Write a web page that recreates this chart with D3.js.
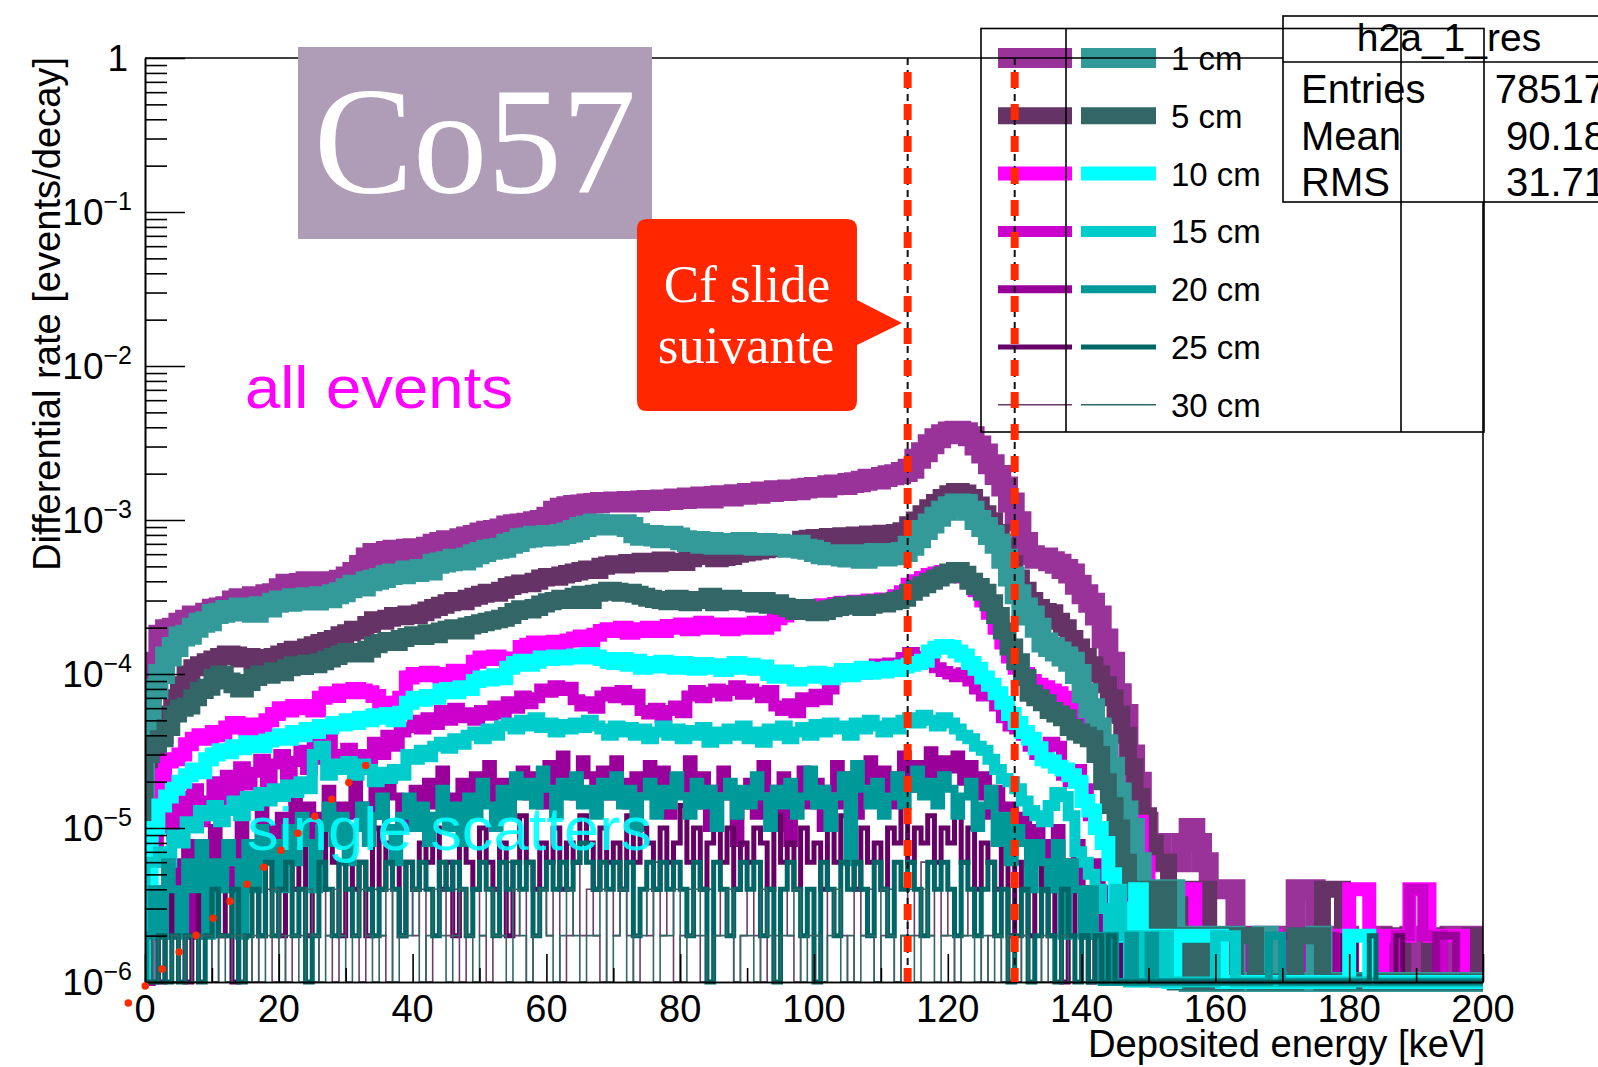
<!DOCTYPE html>
<html>
<head>
<meta charset="utf-8">
<script src="https://cdn.jsdelivr.net/npm/d3@7"></script>
<style>
  body { margin: 0; background: #fff; }
  svg { display: block; }
  text { font-family: "Liberation Sans", Arial, Helvetica, sans-serif; }
  .serif { font-family: "Liberation Serif", "Times New Roman", serif; }
</style>
</head>
<body>
<svg id="chart" width="1598" height="1067"></svg>
<script>
// ---- Binning and axis definitions ----
const binWidth = 1;            // keV per bin
const nBins = 200;             // 0 .. 200 keV
const rateUnit = 1e-6;         // histogram contents below are in units of 1e-6 events/decay
const yMin = 1e-6, yMax = 1;
const energyTicks = [0, 20, 40, 60, 80, 100, 120, 140, 160, 180, 200];
const energyMinorTicks = [10, 30, 50, 70, 90, 110, 130, 150, 170, 190];
const rateDecades = [1e-6, 1e-5, 1e-4, 1e-3, 1e-2, 1e-1, 1];
const selectionCuts = [114, 130]; // keV, dashed window

// ---- Legend / series styling ----
const distances = ["1 cm", "5 cm", "10 cm", "15 cm", "20 cm", "25 cm", "30 cm"];
const allColors = ["#993399", "#663366", "#ff00ff", "#cc00cc", "#990099", "#660066", "#6b3d6b"];
const singleColors = ["#339999", "#336666", "#00ffff", "#00cccc", "#009999", "#006666", "#336666"];
const lineWidths = [20, 17, 14, 11, 8, 5, 1.6];

// ---- All events, per source distance (1e-6 events/decay per keV bin) ----
const allEvents1cm = [
  40,120,180,195,200,215,225,240,235,250,
  265,270,275,300,310,305,320,315,330,335,
  360,385,375,390,400,385,395,400,390,410,
  430,460,510,570,610,600,630,640,620,650,
  655,640,670,700,720,740,730,760,780,800,
  830,850,860,880,920,940,950,960,980,1000,
  1050,1150,1200,1230,1250,1260,1280,1290,1310,1300,
  1320,1310,1330,1300,1340,1350,1330,1360,1350,1380,
  1370,1400,1390,1420,1380,1430,1450,1420,1470,1460,
  1500,1480,1530,1520,1560,1540,1580,1560,1600,1620,
  1640,1620,1680,1700,1690,1740,1760,1800,1850,1830,
  1900,1950,1980,2050,2150,2500,2750,3100,3400,3600,
  3750,3800,3720,3500,3050,2700,2300,1960,1650,1300,
  980,720,590,560,570,540,520,480,450,380,
  330,290,240,170,120,75,55,30,20,11,
  8,8,6,6,6,8,10,8,6,4,
  4,4,4,0,0,2,0,0,2,0,
  0,2,4,4,4,2,0,0,0,2,
  0,0,0,0,2,0,0,0,0,2,
  0,0,0,0,0,2,0,0,2,0
];
const allEvents5cm = [
  20,30,40,55,70,85,100,110,115,120,
  125,130,135,133,125,130,120,128,122,130,
  135,140,145,140,150,155,160,165,170,180,
  185,195,190,210,225,220,230,240,235,245,
  240,250,260,270,280,290,300,295,310,320,
  330,340,335,350,370,380,390,385,400,420,
  430,425,440,450,460,470,480,470,500,510,
  520,510,530,520,540,530,520,550,530,540,
  530,560,590,600,580,560,570,580,600,610,
  620,630,640,650,660,670,690,700,750,760,
  770,760,780,770,790,760,800,780,810,790,
  820,800,830,850,930,1000,1100,1200,1300,1400,
  1480,1530,1500,1400,1250,1100,990,830,680,520,
  420,350,300,270,255,250,220,200,170,150,
  130,115,100,85,70,55,40,25,16,12,
  8,6,6,4,4,2,2,4,4,2,
  0,2,0,2,0,0,2,0,0,0,
  0,0,0,0,0,0,4,4,4,0,
  0,0,0,0,0,0,2,2,0,0,
  0,0,2,0,0,0,0,0,2,2
];
const allEvents10cm = [
  8,15,22,27,28,30,35,38,40,38,
  42,40,45,48,46,44,47,45,50,55,
  60,58,62,60,62,58,70,75,72,78,
  76,80,78,76,72,65,62,64,70,95,
  100,98,102,100,96,100,105,98,104,120,
  128,125,130,126,118,122,150,155,160,150,
  158,162,155,165,170,175,165,180,190,195,
  190,200,185,195,190,200,195,190,205,200,
  210,195,205,215,200,210,205,195,210,200,
  205,215,200,210,230,240,250,255,260,270,
  275,280,270,285,290,280,295,290,300,290,
  305,300,320,340,380,400,420,440,450,460,
  465,450,430,400,350,300,250,200,160,130,
  110,100,90,85,82,78,75,70,62,55,
  45,38,30,22,16,12,10,11,11,6,
  4,2,2,4,4,4,4,2,0,0,
  2,0,0,0,2,2,2,0,2,0,
  0,0,0,0,0,0,0,0,2,2,
  4,4,4,2,0,2,2,2,2,4,
  4,4,2,2,2,2,2,0,0,0
];
const allEvents15cm = [
  2,6,10,14,9,16,12,18,11,15,
  20,14,22,17,25,19,23,28,20,26,
  30,22,27,32,24,35,28,38,30,27,
  33,25,30,28,36,30,40,34,42,45,
  50,44,52,47,58,50,60,52,56,50,
  58,54,62,55,66,60,72,64,70,80,
  76,84,78,82,68,62,66,60,72,76,
  70,78,68,74,58,55,60,52,58,62,
  56,72,78,70,76,80,72,78,84,74,
  80,76,70,78,62,58,64,56,70,66,
  74,68,80,96,104,98,108,100,112,116,
  108,118,112,128,138,130,124,118,110,104,
  100,96,102,90,80,72,76,62,52,46,
  44,40,34,30,32,36,34,22,20,24,
  18,12,10,8,6,4,4,2,2,4,
  2,0,0,0,0,0,0,0,0,0,
  0,0,0,0,0,2,2,0,0,0,
  0,0,0,0,2,0,0,0,0,0,
  0,0,0,0,0,0,0,2,2,4,
  4,2,2,2,0,0,0,0,0,0
];
const allEvents20cm = [
  0,2,4,2,6,4,8,2,6,4,
  10,6,8,4,12,8,6,14,10,8,
  12,6,16,10,14,8,12,18,10,14,
  12,20,14,10,18,12,22,16,10,14,
  18,12,20,14,24,16,12,20,14,22,
  16,26,14,20,12,18,24,16,22,14,
  26,18,30,20,16,28,22,18,24,16,
  28,20,14,22,18,26,16,24,12,20,
  18,28,14,22,10,18,24,16,8,14,
  20,12,26,18,10,22,8,16,24,14,
  20,10,18,26,14,22,12,20,28,16,
  24,14,22,30,18,26,20,32,22,28,
  24,30,20,26,16,22,12,18,10,14,
  8,12,6,10,8,4,10,6,4,8,
  4,2,6,2,4,0,2,0,2,0,
  0,0,0,0,0,0,0,0,0,0,
  0,0,0,0,0,0,0,0,2,0,
  2,2,0,0,0,2,2,2,0,0,
  0,0,0,0,0,0,0,0,0,0,
  0,0,0,2,2,2,0,0,0,0
];
const allEvents25cm = [
  0,2,0,2,4,2,0,2,4,2,
  6,2,4,0,2,6,4,2,8,4,
  2,6,4,8,2,6,4,10,6,2,
  8,4,6,2,10,4,8,6,2,6,
  4,8,6,10,4,6,2,8,6,4,
  10,6,4,8,2,6,12,6,4,8,
  6,10,4,8,6,12,8,4,10,6,
  8,4,12,6,10,8,4,10,6,8,
  14,6,10,4,8,12,6,10,4,8,
  6,10,8,4,12,6,8,4,10,6,
  8,4,10,6,12,8,4,10,6,8,
  4,10,8,14,6,10,8,12,6,10,
  8,12,6,10,4,8,6,4,8,2,
  6,4,2,6,4,2,4,0,2,4,
  2,0,2,0,0,2,0,0,0,0,
  0,0,0,0,0,0,0,0,0,0,
  0,0,0,0,0,0,0,0,0,0,
  0,0,0,0,0,0,0,0,0,2,
  2,0,0,0,0,0,0,2,0,0
];
const allEvents30cm = [
  0,0,2,0,0,2,0,2,0,2,
  0,2,2,0,4,2,0,2,4,0,
  2,0,4,2,2,0,4,2,0,2,
  4,2,0,2,4,2,0,4,2,6,
  2,4,0,2,4,2,4,0,2,4,
  2,0,4,2,6,2,4,0,2,4,
  2,4,0,2,6,2,4,2,0,4,
  2,4,2,0,4,2,6,2,4,0,
  2,4,2,0,4,2,4,2,0,2,
  4,2,0,4,2,4,2,0,2,4,
  2,0,4,2,2,0,4,2,4,0,
  2,4,0,2,4,2,6,2,4,2,
  4,0,2,4,2,0,2,4,0,2,
  0,2,0,2,0,0,2,0,0,2
];

// ---- Single scatters, per source distance ----
const singles1cm = [
  50,80,100,130,150,175,180,200,215,220,
  245,250,260,255,270,265,250,275,270,290,
  300,295,310,300,315,300,320,310,330,340,
  360,380,370,400,410,420,440,450,445,470,
  460,480,470,520,530,540,560,545,570,600,
  620,640,650,660,700,720,760,770,790,780,
  800,790,810,830,860,900,920,950,940,930,
  920,940,900,820,790,800,780,760,790,770,
  740,720,730,700,720,690,710,700,690,720,
  700,680,710,690,700,680,660,690,650,640,
  620,600,590,600,580,570,600,560,590,610,
  580,600,590,620,680,760,860,950,1050,1150,
  1230,1280,1270,1150,1000,900,800,700,560,430,
  330,270,240,200,160,150,140,130,120,100,
  75,60,45,35,25,17,13,10,6,4,
  4,4,4,4,2,2,0,2,0,2,
  2,0,2,0,0,0,0,2,0,0,
  0,0,0,0,0,2,0,0,0,0
];
const singles5cm = [
  30,35,38,45,55,60,62,70,78,82,
  95,100,90,85,80,88,95,100,98,105,
  102,110,115,112,118,115,120,125,130,135,
  140,138,135,145,155,160,165,160,170,175,
  180,175,185,180,190,195,200,190,205,210,
  215,220,225,230,240,255,265,260,270,285,
  295,300,310,300,320,330,300,335,340,350,
  345,335,340,330,320,310,305,300,295,310,
  300,290,305,300,320,290,300,310,295,300,
  290,285,300,280,290,275,265,255,270,260,
  250,255,265,270,280,275,285,270,280,290,
  285,295,300,310,340,360,380,400,420,440,
  460,470,445,400,370,340,290,240,190,150,
  120,95,75,70,65,58,55,52,45,42,
  40,38,30,20,14,10,6,4,4,4,
  2,2,4,2,0,2,0,0,2,0,
  2,2,0,2,2,2,0,0,0,0,
  0,0,2,2,2,2,0,0,0,0
];
const singles10cm = [
  3,10,14,16,18,20,22,24,23,28,
  30,32,31,34,33,36,35,34,37,38,
  40,38,42,40,44,42,46,45,48,47,
  50,48,52,50,54,52,55,50,56,65,
  70,68,72,70,78,80,76,82,80,90,
  95,92,98,94,110,118,122,115,120,128,
  125,130,126,128,132,128,135,130,125,120,
  118,125,115,122,110,118,112,120,115,110,
  118,112,108,116,110,114,106,112,118,110,
  115,108,112,100,96,104,98,92,100,96,
  102,98,94,100,106,98,104,110,102,108,
  104,110,106,112,115,118,122,140,148,152,
  150,140,132,118,108,95,85,75,65,55,
  48,42,38,33,28,27,25,24,22,20,
  15,13,10,8,5,3,2,2,4,2,
  2,2,2,0,2,2,2,2,2,2,
  2,0,0,0,0,0,0,0,0,0,
  0,0,0,0,0,0,0,0,0,0,
  2,2,2,0,0,0,0,0,0,0
];
const singles15cm = [
  6,6,7,6,9,8,11,10,13,12,
  14,11,13,15,12,16,14,17,15,18,
  16,19,17,20,18,30,34,22,26,24,
  27,22,26,24,20,23,21,24,22,30,
  28,32,29,34,36,33,38,35,40,42,
  38,44,40,46,48,44,50,46,52,45,
  48,42,47,44,48,45,50,46,44,40,
  46,42,45,40,44,38,42,46,40,44,
  38,43,40,45,36,42,38,44,40,46,
  38,42,36,44,40,46,38,42,45,40,
  47,42,48,44,46,40,48,44,50,46,
  42,48,44,50,52,48,54,50,46,52,
  48,44,40,38,34,32,28,24,21,20,
  18,15,13,12,11,14,17,16,12,7,
  6,5,4,3,2,4,2,0,2,0,
  2,0,2,0,0,0,0,0,0,0,
  2,2,2,0,0,0,0,0,0,0
];
const singles20cm = [
  2,4,2,6,4,2,6,4,8,2,
  6,4,8,6,2,8,4,10,6,8,
  4,10,6,12,8,4,10,14,8,12,
  6,10,14,8,12,16,10,6,12,16,
  10,14,8,12,18,10,14,8,16,12,
  20,14,10,18,12,22,16,20,14,24,
  18,12,20,16,22,14,18,12,20,16,
  22,14,18,10,16,20,12,18,14,22,
  16,12,20,14,18,10,16,20,12,18,
  14,22,16,10,18,14,20,12,16,24,
  14,18,10,16,22,6,26,18,14,20,
  12,16,22,14,18,24,16,20,14,22,
  18,12,16,20,10,14,18,8,12,6,
  10,8,4,8,6,4,8,2,6,4,
  2,4,2,0,2,0,0,2,0,0,
  2,0,0,0,0,0,0,0,0,0,
  0,0,0,0,0,0,0,0,2,2
];
const singles25cm = [
  0,0,2,0,2,0,2,2,0,2,
  4,2,2,4,0,2,4,2,6,2,
  4,6,2,4,0,2,6,4,2,6,
  4,2,6,4,2,4,6,4,2,6,
  4,6,4,2,6,4,6,4,2,4,
  6,4,2,6,4,6,4,6,2,4,
  6,4,6,4,6,8,6,4,6,4,
  6,4,6,2,4,6,4,6,4,6,
  4,2,6,4,0,6,4,2,4,6,
  4,6,2,4,0,4,6,4,2,4,
  0,6,4,2,6,4,6,4,2,6,
  4,2,6,4,6,4,2,6,4,6,
  4,2,6,4,2,4,6,2,4,0,
  2,4,0,2,4,2,0,4,2,0,
  2,0,2,0,2,0,0,0,0,0,
  0,0,0,0,0,0,0,0,0,0,
  0,0,0,0,0,0,0,0,0,0,
  0,0,0,0,0,0,0,0,0,0,
  0,0,0,2,0,0,0,0,0,0
];
const singles30cm = [
  0,2,0,0,2,0,2,0,2,2,
  0,2,0,2,2,0,2,0,2,4,
  0,2,2,0,4,2,0,2,4,2,
  0,2,4,2,0,2,4,0,2,2,
  4,0,2,4,2,0,2,4,2,0,
  2,4,2,2,0,4,2,0,2,4,
  2,0,2,4,2,0,2,2,4,0,
  2,4,0,2,2,4,0,2,2,4,
  0,2,4,2,0,2,2,4,0,2,
  2,0,4,2,0,2,2,4,0,2,
  2,0,2,4,0,2,0,2,2,0,
  4,2,0,2,2,0,4,2,0,2,
  2,0,2,2,0,2,0,2,0,2,
  0,2,0,0,2,0,0,2,0,0
];

// Dotted guide drawn across the low-energy region: [keV, events/decay]
const guideStart = [-2.5, 7.3e-7];
const guideEnd = [33, 2.55e-5];

const allSeries = [allEvents1cm, allEvents5cm, allEvents10cm, allEvents15cm, allEvents20cm, allEvents25cm, allEvents30cm];
const singleSeries = [singles1cm, singles5cm, singles10cm, singles15cm, singles20cm, singles25cm, singles30cm];

// ---- Scales ----
const svg = d3.select("#chart");
const x = d3.scaleLinear().domain([0, nBins * binWidth]).range([145, 1483]);
const y = d3.scaleLog().domain([yMin, yMax]).range([982, 58]);

// Step outline of a histogram, starting and ending on the lower axis limit.
// Empty bins sit on the lower limit, as on a log axis.
function stepPoints(counts) {
  const pts = [[0, yMin]];
  for (let i = 0; i < nBins; i++) {
    const c = i < counts.length ? counts[i] : 0;
    const r = Math.max(c * rateUnit, yMin);
    pts.push([i * binWidth, r], [(i + 1) * binWidth, r]);
  }
  pts.push([nBins * binWidth, yMin]);
  return pts;
}
const stepLine = d3.line().x(d => x(d[0])).y(d => y(d[1]));

svg.append("clipPath").attr("id", "plotClip")
  .append("rect").attr("x", 145).attr("y", 40).attr("width", 1338).attr("height", 955);

const histLayer = svg.append("g").attr("clip-path", "url(#plotClip)");
const drawOrder = [
  ...allSeries.map((s, i) => ({ counts: s, color: allColors[i], width: lineWidths[i] })),
  ...singleSeries.map((s, i) => ({ counts: s, color: singleColors[i], width: lineWidths[i] }))
];
histLayer.selectAll("path.hist").data(drawOrder).join("path")
  .attr("class", "hist")
  .attr("d", d => stepLine(stepPoints(d.counts)))
  .attr("fill", "none")
  .attr("stroke", d => d.color)
  .attr("stroke-width", d => d.width)
  .attr("stroke-linejoin", "miter")
  .attr("stroke-linecap", "butt");

// ---- In-plot labels ----
svg.append("text").attr("x", 245).attr("y", 408)
  .attr("font-size", 60).attr("fill", "#ff00ff")
  .attr("textLength", 268).attr("lengthAdjust", "spacingAndGlyphs")
  .text("all events");
svg.append("text").attr("x", 247).attr("y", 850)
  .attr("font-size", 62).attr("fill", "#00ffff").attr("fill-opacity", 0.9)
  .attr("textLength", 405).attr("lengthAdjust", "spacingAndGlyphs")
  .text("single scatters");

// ---- Legend entries ----
const legend = svg.append("g");
const rowY = i => 58 + i * 57.8;
distances.forEach((label, i) => {
  const yy = rowY(i);
  legend.append("line").attr("x1", 998).attr("x2", 1072).attr("y1", yy).attr("y2", yy)
    .attr("stroke", allColors[i]).attr("stroke-width", lineWidths[i]);
  legend.append("line").attr("x1", 1081).attr("x2", 1156).attr("y1", yy).attr("y2", yy)
    .attr("stroke", singleColors[i]).attr("stroke-width", lineWidths[i]);
  legend.append("text").attr("x", 1171).attr("y", yy + 12)
    .attr("font-size", 33).attr("fill", "#000").text(label);
});

// ---- Axes ----
const yMajorAxis = d3.axisLeft(y).tickValues(rateDecades).tickSizeInner(-40).tickSizeOuter(0).tickFormat("");
const yMinorTicks = y.ticks().filter(v => !rateDecades.some(d => Math.abs(d - v) / d < 1e-9));
const yMinorAxis = d3.axisLeft(y).tickValues(yMinorTicks).tickSizeInner(-22).tickSizeOuter(0).tickFormat("");
const xMajorAxis = d3.axisBottom(x).tickValues(energyTicks).tickSizeInner(-28).tickSizeOuter(0).tickFormat("");
const xMinorAxis = d3.axisBottom(x).tickValues(energyMinorTicks).tickSizeInner(-14).tickSizeOuter(0).tickFormat("");

function styleAxis(g) {
  g.selectAll("path, line").attr("stroke", "#000").attr("stroke-width", 1.6);
}
svg.append("g").attr("transform", "translate(145,0)").call(yMajorAxis).call(styleAxis);
svg.append("g").attr("transform", "translate(145,0)").call(yMinorAxis).call(styleAxis);
svg.append("g").attr("transform", "translate(0,982)").call(xMajorAxis).call(styleAxis);
svg.append("g").attr("transform", "translate(0,982)").call(xMinorAxis).call(styleAxis);

// frame: top and right edges
svg.append("line").attr("x1", 145).attr("x2", 1483).attr("y1", y(yMax)).attr("y2", y(yMax))
  .attr("stroke", "#000").attr("stroke-width", 1.6);
svg.append("line").attr("x1", x(200)).attr("x2", x(200)).attr("y1", y(yMax)).attr("y2", y(yMin))
  .attr("stroke", "#000").attr("stroke-width", 1.6);

// y tick labels with superscript exponents
rateDecades.forEach(v => {
  const exp = Math.round(Math.log10(v));
  const t = svg.append("text").attr("text-anchor", "end").attr("fill", "#000");
  if (exp === 0) {
    t.attr("x", 128).attr("y", y(v) + 13).attr("font-size", 37).text("1");
  } else {
    t.attr("x", 132).attr("y", y(v) + 13);
    t.append("tspan").attr("font-size", 37).text("10");
    t.append("tspan").attr("font-size", 25).attr("dy", -15).text("\u2212" + (-exp));
  }
});

// x tick labels
svg.append("g").selectAll("text").data(energyTicks).join("text")
  .attr("x", d => x(d)).attr("y", 1022)
  .attr("text-anchor", "middle").attr("font-size", 38).attr("fill", "#000")
  .text(d => d);

// axis titles
svg.append("text").attr("x", 1485).attr("y", 1057)
  .attr("text-anchor", "end").attr("font-size", 38)
  .attr("textLength", 397).attr("lengthAdjust", "spacingAndGlyphs")
  .text("Deposited energy [keV]");
svg.append("text").attr("transform", "translate(60,57) rotate(-90)")
  .attr("text-anchor", "end").attr("font-size", 38)
  .attr("textLength", 514).attr("lengthAdjust", "spacingAndGlyphs")
  .text("Differential rate [events/decay]");

// ---- Statistics box ----
const stats = svg.append("g");
stats.append("rect").attr("x", 1283).attr("y", 16).attr("width", 340).attr("height", 186)
  .attr("fill", "#fff").attr("stroke", "#000").attr("stroke-width", 1.6);
stats.append("line").attr("x1", 1283).attr("x2", 1623).attr("y1", 62).attr("y2", 62)
  .attr("stroke", "#000").attr("stroke-width", 1.6);
stats.append("text").attr("x", 1449).attr("y", 51).attr("text-anchor", "middle")
  .attr("font-size", 39).text("h2a_1_res");
const statNames = ["Entries", "Mean", "RMS"];
const statValues = ["78517", "90.18", "31.71"];
statNames.forEach((n, i) => {
  const by = 103 + i * 46.5;
  stats.append("text").attr("x", 1301).attr("y", by).attr("font-size", 40).text(n);
  stats.append("text").attr("x", 1606).attr("y", by).attr("text-anchor", "end")
    .attr("font-size", 40).text(statValues[i]);
});

// ---- Legend outline (drawn over the statistics box) ----
const legendBox = svg.append("g").attr("fill", "none").attr("stroke", "#000").attr("stroke-width", 1.6);
legendBox.append("rect").attr("x", 981).attr("y", 28.5).attr("width", 503).attr("height", 403.5);
legendBox.append("line").attr("x1", 1066).attr("x2", 1066).attr("y1", 28.5).attr("y2", 432);
legendBox.append("line").attr("x1", 1401).attr("x2", 1401).attr("y1", 28.5).attr("y2", 432);

// ---- Source tag ----
svg.append("rect").attr("x", 298).attr("y", 47).attr("width", 354).attr("height", 192)
  .attr("fill", "#af9cb6");
svg.append("text").attr("class", "serif").attr("x", 475).attr("y", 193)
  .attr("text-anchor", "middle").attr("font-size", 152).attr("fill", "#fff")
  .attr("textLength", 322).attr("lengthAdjust", "spacingAndGlyphs")
  .text("Co57");

// ---- Callout ----
svg.append("path")
  .attr("d", "M647,219 H847 Q857,219 857,229 V300 L902,323 L857,345 V401 Q857,411 847,411 H647 Q637,411 637,401 V229 Q637,219 647,219 Z")
  .attr("fill", "#ff2600");
svg.append("text").attr("class", "serif").attr("x", 747).attr("y", 302)
  .attr("text-anchor", "middle").attr("font-size", 53).attr("fill", "#fff").text("Cf slide");
svg.append("text").attr("class", "serif").attr("x", 746).attr("y", 363)
  .attr("text-anchor", "middle").attr("font-size", 53).attr("fill", "#fff").text("suivante");

// ---- Energy window markers ----
const cuts = svg.append("g");
selectionCuts.forEach(e => {
  cuts.append("line").attr("x1", x(e)).attr("x2", x(e)).attr("y1", y(yMax)).attr("y2", y(yMin))
    .attr("stroke", "#111").attr("stroke-width", 2).attr("stroke-dasharray", "7 5");
});
selectionCuts.forEach(e => {
  cuts.append("line").attr("x1", x(e)).attr("x2", x(e)).attr("y1", y(yMax)).attr("y2", y(yMin))
    .attr("stroke", "#ff2a00").attr("stroke-width", 8)
    .attr("stroke-dasharray", "16 16").attr("stroke-dashoffset", 18);
});

// ---- Dotted guide ----
const gx1 = x(guideStart[0]), gy1 = y(guideStart[1]);
const gx2 = x(guideEnd[0]), gy2 = y(guideEnd[1]);
const gLen = Math.hypot(gx2 - gx1, gy2 - gy1);
svg.append("line").attr("x1", gx1).attr("y1", gy1).attr("x2", gx2).attr("y2", gy2)
  .attr("stroke", "#ff2a00").attr("stroke-width", 7.5).attr("stroke-linecap", "round")
  .attr("stroke-dasharray", `0 ${gLen / 14 - 0.001}`);
</script>
</body>
</html>
